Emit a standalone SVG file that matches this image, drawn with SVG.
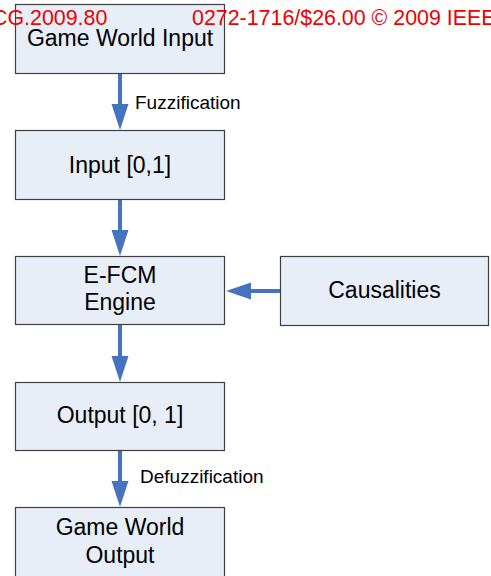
<svg xmlns="http://www.w3.org/2000/svg" width="491" height="576" viewBox="0 0 491 576">
  <style>
    .box { fill: #e8eef8; stroke: #3f3f3f; stroke-width: 1.2; }
    .label { font-family: "Liberation Sans", Arial, sans-serif; font-size: 23px; fill: #000; text-anchor: middle; }
    .edge-label { font-family: "Liberation Sans", Arial, sans-serif; font-size: 19px; fill: #000; }
    .conn { stroke: #4573bf; stroke-width: 4; fill: none; }
    .head { fill: #4573bf; }
    .stamp { font-family: "Liberation Sans", Arial, sans-serif; font-size: 21.4px; fill: #ee0000; }
  </style>
  <rect width="491" height="576" fill="#ffffff"/>

  <g id="connectors">
    <!-- Game World Input -> Input [0,1] -->
    <line class="conn" x1="120" y1="74" x2="120" y2="106"/>
    <polygon class="head" points="111.5,104 128.5,104 120,130"/>
    <!-- Input [0,1] -> E-FCM Engine -->
    <line class="conn" x1="120" y1="200" x2="120" y2="232"/>
    <polygon class="head" points="111.5,230 128.5,230 120,256"/>
    <!-- E-FCM Engine -> Output [0, 1] -->
    <line class="conn" x1="120" y1="325" x2="120" y2="358"/>
    <polygon class="head" points="111.5,356 128.5,356 120,382"/>
    <!-- Output [0, 1] -> Game World Output -->
    <line class="conn" x1="120" y1="451" x2="120" y2="483"/>
    <polygon class="head" points="111.5,481 128.5,481 120,507"/>
    <!-- Causalities -> E-FCM Engine -->
    <line class="conn" x1="281" y1="291" x2="249" y2="291"/>
    <polygon class="head" points="251,282.5 251,299.5 226,291"/>
    <text class="edge-label" x="135" y="109">Fuzzification</text>
    <text class="edge-label" x="140" y="483">Defuzzification</text>
  </g>

  <g id="game-world-input">
    <rect class="box" x="15.5" y="4.5" width="209" height="69"/>
    <text class="label" x="120" y="46">Game World Input</text>
  </g>

  <g id="input-01">
    <rect class="box" x="15.5" y="130.5" width="209" height="69"/>
    <text class="label" x="120" y="173">Input [0,1]</text>
  </g>

  <g id="efcm-engine">
    <rect class="box" x="15.5" y="256.5" width="209" height="68"/>
    <text class="label" x="120" y="283">E-FCM</text>
    <text class="label" x="120" y="310">Engine</text>
  </g>

  <g id="causalities">
    <rect class="box" x="280.5" y="256.5" width="208" height="69"/>
    <text class="label" x="384.5" y="298">Causalities</text>
  </g>

  <g id="output-01">
    <rect class="box" x="15.5" y="382.5" width="209" height="68"/>
    <text class="label" x="120" y="423">Output [0, 1]</text>
  </g>

  <g id="game-world-output">
    <rect class="box" x="15.5" y="507.5" width="209" height="80"/>
    <text class="label" x="120" y="535">Game World</text>
    <text class="label" x="120" y="563">Output</text>
  </g>

  <!-- publication stamp across the top edge -->
  <text class="stamp" x="-8" y="25">CG.2009.80</text>
  <text class="stamp" x="192" y="25">0272-1716/$26.00 © 2009 IEEE</text>
</svg>
